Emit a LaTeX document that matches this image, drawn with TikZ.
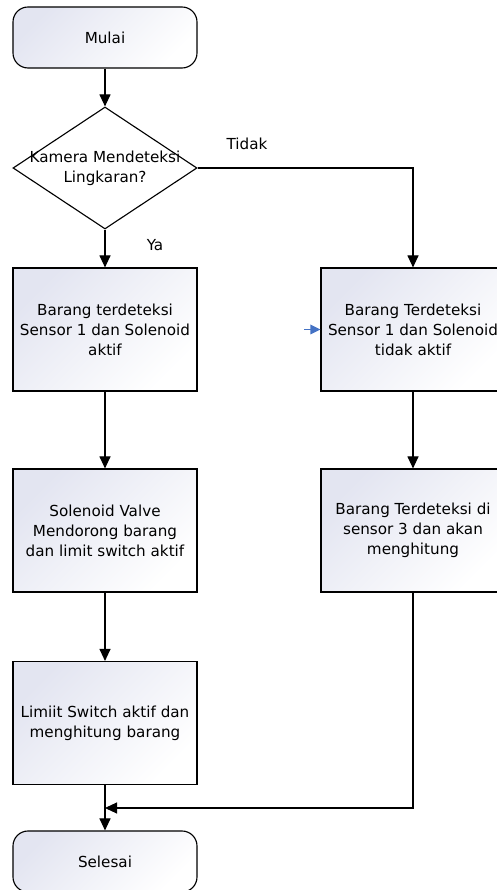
\documentclass[tikz,border=0pt]{standalone}
\usepackage{fontspec}
\setmainfont{DejaVu Sans}
\usetikzlibrary{shapes.geometric,arrows.meta}
\definecolor{boxtint}{HTML}{E3E5F1}
\definecolor{markerblue}{HTML}{4472C4}
\begin{document}
\begin{tikzpicture}[
    >={Triangle[length=0.3cm,width=0.275cm]},
    every node/.style={font=\fontsize{10.8}{14.2}\selectfont},
    flowline/.style={line width=0.8pt,->},
    procbox/.style={draw,line width=0.8pt,minimum width=4.6cm,minimum height=3.075cm,align=center,
        top color=boxtint,bottom color=white,shading angle=45},
    terminal/.style={procbox,minimum height=1.525cm,rounded corners=0.375cm},
    decision/.style={draw,line width=0.8pt,diamond,minimum width=4.6cm,minimum height=3.05cm,inner sep=0pt,fill=white}
  ]
    \useasboundingbox (0,0) rectangle (12.4,22.25);
    \node[terminal] (mulai) at (2.625,21.3125) {Mulai};
    \node[decision] (kamera) at (2.625,18.05) {};
    \node[align=center] (kameratext) at (kamera) {Kamera Mendeteksi\\Lingkaran?};
    \node[procbox] (aktif) at (2.625,14.0125) {Barang terdeteksi\\Sensor 1 dan Solenoid\\aktif};
    \node[procbox] (tidakaktif) at (10.325,14.0125) {Barang Terdeteksi\\Sensor 1 dan Solenoid\\tidak aktif};
    \node[procbox] (dorong) at (2.625,8.9875) {Solenoid Valve\\Mendorong barang\\dan limit switch aktif};
    \node[procbox] (sensortiga) at (10.325,8.9875) {Barang Terdeteksi di\\sensor 3 dan akan\\menghitung};
    \node[procbox] (limit) at (2.625,4.175) {Limiit Switch aktif dan\\menghitung barang};
    \node[terminal] (selesai) at (2.625,0.7125) {Selesai};
    \coordinate (gabung) at (2.625,2.05);
    \coordinate (penanda) at (7.6,14.0125);
    \node (tidak) at (6.175,18.65) {Tidak};
    \node (ya) at (3.875,16.125) {Ya};
    \draw[flowline] (mulai) -- (kamera);
    \draw[flowline] (kamera) -- (aktif);
    \draw[flowline] (kamera.east) -| (tidakaktif);
    \draw[flowline] (aktif) -- (dorong);
    \draw[flowline] (dorong) -- (limit);
    \draw[flowline] (limit) -- (selesai);
    \draw[flowline] (tidakaktif) -- (sensortiga);
    \draw[flowline] (sensortiga) |- (gabung);
    \draw[markerblue,line width=1pt,-{Triangle[length=0.25cm,width=0.24cm]}] (penanda) -- (tidakaktif.west);
\end{tikzpicture}
\end{document}
